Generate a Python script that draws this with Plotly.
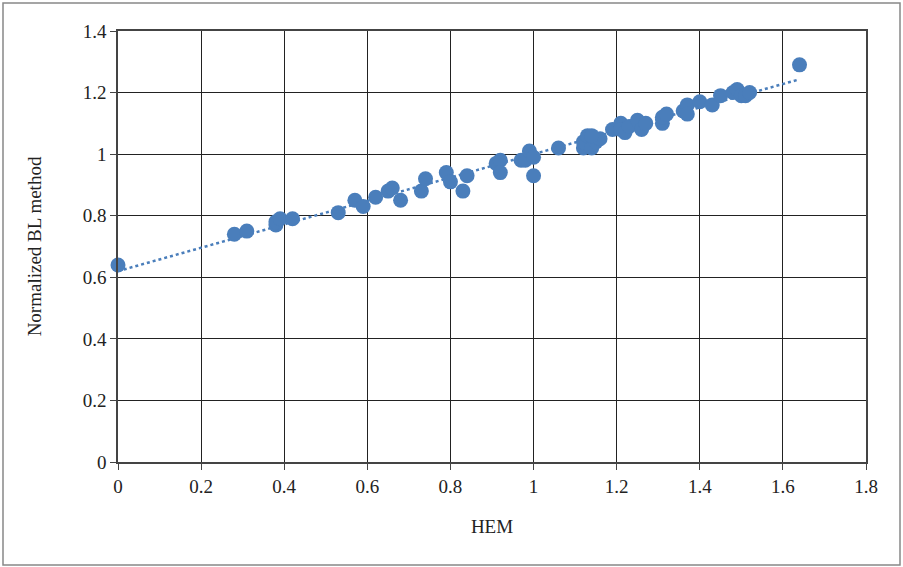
import numpy as np
import plotly.graph_objects as go

hem = [0.00, 0.28, 0.31, 0.38, 0.38, 0.39, 0.42, 0.53, 0.57, 0.59, 0.62, 0.65, 0.66, 0.68,
       0.73, 0.74, 0.79, 0.80, 0.83, 0.84, 0.91, 0.92, 0.92, 0.97, 0.98, 0.99, 1.00, 1.00,
       1.06, 1.12, 1.12, 1.13, 1.14, 1.15, 1.16, 1.14, 1.19, 1.21, 1.21, 1.22, 1.23, 1.25,
       1.26, 1.27, 1.31, 1.31, 1.32, 1.36, 1.37, 1.37, 1.40, 1.43, 1.45, 1.48, 1.49, 1.50,
       1.51, 1.52, 1.64]
bl = [0.64, 0.74, 0.75, 0.77, 0.78, 0.79, 0.79, 0.81, 0.85, 0.83, 0.86, 0.88, 0.89, 0.85,
      0.88, 0.92, 0.94, 0.91, 0.88, 0.93, 0.97, 0.98, 0.94, 0.98, 0.98, 1.01, 0.99, 0.93,
      1.02, 1.02, 1.04, 1.06, 1.02, 1.04, 1.05, 1.06, 1.08, 1.10, 1.08, 1.07, 1.09, 1.11,
      1.08, 1.10, 1.10, 1.12, 1.13, 1.14, 1.16, 1.13, 1.17, 1.16, 1.19, 1.20, 1.21, 1.19,
      1.19, 1.20, 1.29]

x_ticks = [0, 0.2, 0.4, 0.6, 0.8, 1, 1.2, 1.4, 1.6, 1.8]
y_ticks = [0, 0.2, 0.4, 0.6, 0.8, 1, 1.2, 1.4]

slope, intercept = np.polyfit(hem, bl, 1)
tx = [min(hem), max(hem)]
ty = [intercept + slope * v for v in tx]

color = "#4a7ebb"
font = "Liberation Serif"

fig = go.Figure()
fig.add_trace(go.Scatter(x=tx, y=ty, mode="lines",
                         line=dict(color=color, width=2.5, dash="dot"),
                         hoverinfo="skip", showlegend=False))
fig.add_trace(go.Scatter(x=hem, y=bl, mode="markers", cliponaxis=False,
                         marker=dict(color=color, size=15, line=dict(width=0)),
                         showlegend=False))

L, R, T, B = 118, 37, 31, 105
W, H = 903, 567
pw, ph = W - L - R, H - T - B

fig.update_layout(
    width=W, height=H,
    margin=dict(l=L, r=R, t=T, b=B, pad=0),
    paper_bgcolor="white", plot_bgcolor="white",
    font=dict(family=font, size=19, color="#222"),
    xaxis=dict(range=[0, 1.8], tickvals=x_ticks, ticktext=[f"{v:g}" for v in x_ticks],
               showgrid=True, gridcolor="#222", gridwidth=1,
               showline=True, linecolor="#444", linewidth=1.5, mirror=True,
               ticks="outside", ticklen=6, tickcolor="#444", automargin=False,
               zeroline=False, title=dict(text="HEM", standoff=24,
                                          font=dict(size=19))),
    yaxis=dict(range=[0, 1.4], tickvals=y_ticks, ticktext=[f"{v:g}" for v in y_ticks],
               showgrid=True, gridcolor="#222", gridwidth=1,
               showline=True, linecolor="#444", linewidth=1.5, mirror=True,
               ticks="outside", ticklen=6, tickcolor="#444", automargin=False,
               zeroline=False, title=dict(text="Normalized BL method", standoff=36,
                                          font=dict(size=19))),
    shapes=[dict(type="rect", xref="paper", yref="paper",
                 x0=(3 - L) / pw, x1=(900 - L) / pw,
                 y0=(H - B - 565) / ph, y1=(H - B - 3) / ph,
                 line=dict(color="#888", width=1.5), layer="below")],
)
fig.write_html("out.html", config={"displayModeBar": False},
               post_script="document.body.style.margin='0';")
